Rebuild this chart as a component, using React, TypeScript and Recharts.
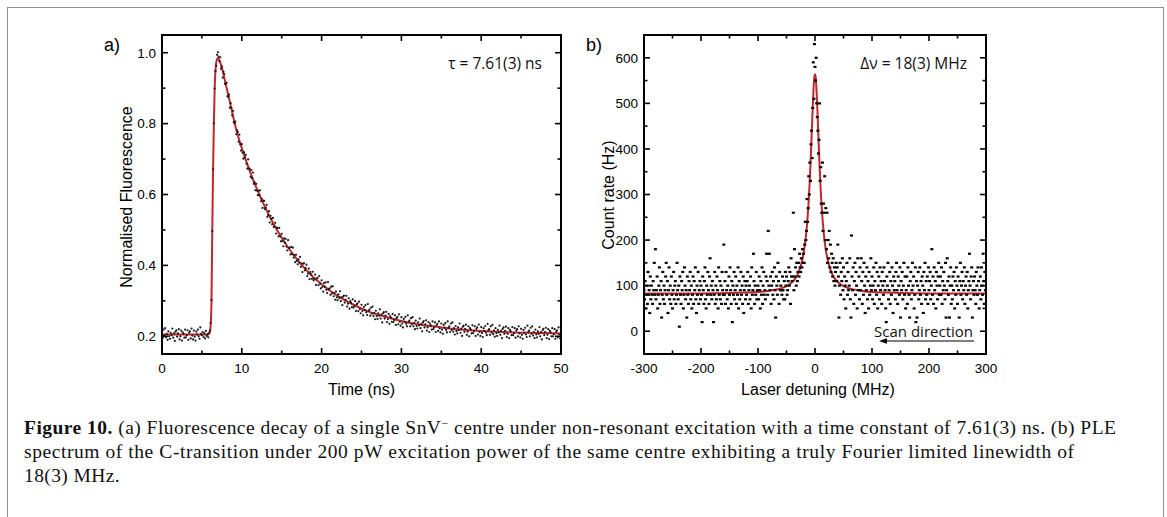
import { ComposedChart, Line, Scatter, XAxis, YAxis } from "recharts";

// (a) time-resolved fluorescence, one value per 0.1 ns bin from 0 to 50 ns (normalised, x1000)
const DECAY_BIN_NS = 0.1;
const DECAY_MILLI = [
  211, 195, 219, 202, 223, 197, 207, 190, 214, 200,
  193, 210, 203, 222, 196, 208, 187, 213, 217, 199,
  208, 220, 191, 200, 216, 188, 211, 207, 196, 219,
  197, 203, 217, 190, 210, 214, 194, 222, 202, 191,
  216, 199, 188, 213, 205, 219, 200, 193, 225, 207,
  203, 212, 198, 209, 194, 215, 201, 206, 197, 210,
  216, 238, 302, 497, 671, 801, 899, 948, 963, 994,
  1001, 989, 976, 987, 955, 961, 930, 946, 940, 912,
  913, 915, 877, 876, 882, 845, 858, 844, 823, 836,
  804, 801, 806, 770, 781, 776, 749, 769, 742, 724,
  742, 718, 701, 719, 705, 712, 687, 673, 699, 674,
  672, 650, 669, 646, 662, 630, 634, 612, 630, 611,
  598, 610, 598, 612, 581, 588, 562, 583, 582, 559,
  563, 571, 537, 542, 553, 521, 540, 531, 516, 534,
  508, 510, 520, 490, 506, 506, 482, 506, 482, 468,
  489, 469, 454, 476, 464, 475, 453, 442, 471, 449,
  450, 431, 452, 432, 450, 422, 429, 409, 430, 413,
  403, 417, 408, 424, 396, 405, 381, 405, 406, 386,
  392, 402, 370, 377, 391, 361, 381, 375, 362, 382,
  358, 362, 374, 345, 363, 365, 344, 370, 348, 335,
  358, 339, 326, 350, 340, 352, 331, 322, 353, 333,
  335, 317, 340, 321, 341, 313, 322, 303, 326, 310,
  302, 318, 309, 327, 299, 310, 288, 312, 315, 295,
  303, 314, 284, 292, 307, 278, 299, 294, 282, 304,
  281, 286, 299, 271, 290, 293, 271, 298, 277, 265,
  289, 271, 259, 283, 274, 288, 268, 260, 291, 272,
  275, 258, 281, 264, 284, 257, 266, 248, 272, 257,
  249, 265, 258, 276, 250, 261, 239, 265, 268, 250,
  258, 269, 240, 248, 263, 235, 257, 252, 241, 263,
  240, 246, 259, 232, 251, 255, 234, 262, 241, 230,
  254, 236, 225, 249, 241, 255, 235, 228, 259, 241,
  244, 228, 251, 234, 254, 228, 238, 220, 244, 229,
  222, 239, 231, 250, 223, 235, 214, 239, 243, 225,
  234, 245, 216, 225, 240, 212, 235, 230, 219, 242,
  220, 225, 239, 212, 231, 235, 215, 242, 222, 211,
  236, 219, 207, 232, 224, 237, 218, 211, 242, 224,
  228, 212, 236, 218, 239, 213, 223, 205, 229, 215,
  208, 225, 218, 236, 210, 222, 201, 227, 230, 212,
  221, 233, 204, 213, 228, 200, 223, 219, 208, 231,
  209, 215, 228, 201, 221, 225, 205, 233, 212, 201,
  226, 209, 198, 223, 215, 229, 210, 203, 235, 217,
  220, 204, 228, 211, 232, 206, 216, 199, 223, 209,
  201, 218, 211, 230, 204, 216, 195, 221, 225, 207,
  215, 227, 198, 207, 223, 195, 218, 214, 203, 226,
  203, 209, 223, 196, 216, 220, 200, 228, 208, 197,
  221, 204, 193, 218, 210, 224, 205, 198, 230, 212,
  216, 200, 224, 207, 228, 202, 212, 195, 219, 205,
  197, 214, 207, 226, 200, 212, 191, 217, 221, 203,
  212, 224, 195, 204, 220, 192, 215, 211, 200, 223,
  200, 206, 220, 193, 213, 217, 197, 225, 205, 194,
  207,
];

// exponential fit, tau = 7.61 ns
const DECAY_FIT_T = [
  0, 5.8, 5.9, 6.0, 6.1, 6.2, 6.3, 6.4, 6.5, 6.6, 6.7, 6.8, 6.9, 7.0, 7.2, 7.5, 8, 8.5, 9, 9.5,
  10, 11, 12, 13, 14, 15, 16, 17, 18, 19, 20, 22, 24, 26, 28, 30, 32, 34, 36, 38, 40, 42, 44, 46, 48, 50,
];
const DECAY_FIT_V = [
  0.205, 0.205, 0.207, 0.212, 0.23, 0.3, 0.5, 0.67, 0.8, 0.9, 0.95, 0.973, 0.982, 0.985, 0.978, 0.958,
  0.91, 0.862, 0.812, 0.767, 0.731, 0.666, 0.61, 0.56, 0.516, 0.478, 0.444, 0.415, 0.389, 0.366, 0.347,
  0.314, 0.289, 0.269, 0.255, 0.243, 0.234, 0.228, 0.222, 0.218, 0.215, 0.213, 0.211, 0.21, 0.209, 0.208,
];

// (b) PLE scan, one count rate per MHz from -300 to +300 MHz
const PLE_START_MHZ = -300;
const PLE_STEP_MHZ = 1;
const PLE_HZ = [
  90, 70, 110, 50, 80, 100, 60, 130, 80, 90, 40, 120, 70, 100, 80, 60, 110, 90, 150, 80,
  180, 70, 90, 120, 50, 80, 100, 140, 60, 90, 110, 30, 80, 130, 70, 100, 60, 90, 120, 150,
  80, 110, 40, 90, 140, 70, 100, 60, 120, 80, 50, 90, 130, 70, 100, 110, 60, 80, 150, 90,
  70, 100, 10, 120, 80, 60, 110, 90, 130, 50, 80, 140, 100, 70, 90, 30, 120, 80, 60, 110,
  90, 130, 70, 100, 50, 80, 120, 60, 110, 90, 140, 70, 40, 100, 80, 130, 60, 90, 110, 70,
  100, 80, 20, 120, 90, 60, 110, 140, 70, 50, 100, 80, 130, 90, 60, 120, 160, 80, 100, 70,
  110, 90, 20, 80, 130, 60, 100, 70, 120, 90, 50, 140, 80, 110, 70, 100, 60, 130, 90, 80,
  190, 80, 110, 60, 130, 90, 70, 100, 50, 120, 80, 140, 90, 60, 110, 20, 100, 80, 130, 70,
  90, 120, 60, 100, 80, 140, 50, 110, 70, 90, 130, 80, 100, 60, 120, 40, 90, 110, 70, 100,
  80, 110, 130, 60, 90, 100, 70, 120, 50, 140, 80, 90, 170, 110, 60, 100, 80, 130, 70, 90,
  100, 70, 120, 90, 50, 110, 80, 140, 60, 100, 130, 80, 90, 70, 120, 170, 110, 80, 220, 100,
  170, 90, 120, 60, 100, 130, 80, 110, 70, 140, 90, 30, 120, 100, 80, 150, 110, 60, 130, 90,
  100, 90, 80, 120, 90, 70, 110, 70, 130, 100, 120, 80, 90, 110, 140, 100, 130, 60, 160, 120,
  110, 120, 260, 90, 180, 120, 140, 100, 150, 110, 130, 150, 120, 170, 140, 130, 160, 140, 180, 150,
  170, 150, 190, 240, 200, 220, 290, 240, 270, 340, 300, 370, 330, 410, 440, 380, 490, 590, 510, 630,
  580, 550, 600, 500, 470, 440, 390, 420, 500, 330, 360, 280, 260, 370, 220, 280, 260, 340, 200, 270,
  180, 260, 150, 200, 160, 220, 140, 190, 130, 170, 150, 120, 160, 110, 140, 100, 130, 150, 110, 140,
  190, 120, 30, 100, 150, 80, 130, 110, 160, 90, 140, 70, 120, 100, 50, 110, 150, 80, 130, 90,
  100, 160, 70, 30, 210, 120, 90, 140, 60, 110, 150, 80, 130, 100, 50, 160, 90, 120, 70, 140,
  90, 160, 110, 60, 130, 80, 150, 100, 40, 120, 90, 140, 70, 110, 50, 130, 80, 100, 160, 90,
  120, 70, 100, 140, 60, 110, 90, 150, 80, 130, 50, 100, 120, 70, 140, 90, 110, 60, 130, 100,
  80, 140, 110, 90, 50, 20, 120, 100, 150, 70, 90, 130, 60, 110, 80, 140, 100, 40, 120, 90,
  110, 70, 130, 150, 90, 60, 120, 100, 80, 140, 30, 110, 90, 130, 70, 100, 150, 80, 120, 50,
  90, 120, 60, 140, 100, 80, 30, 110, 130, 70, 90, 150, 100, 120, 50, 80, 140, 20, 110, 30,
  100, 130, 70, 90, 140, 80, 110, 60, 120, 100, 40, 130, 90, 150, 70, 110, 80, 120, 60, 140,
  90, 110, 130, 70, 100, 180, 80, 120, 60, 140, 90, 110, 50, 130, 100, 70, 120, 150, 80, 100,
  120, 80, 140, 60, 110, 90, 130, 100, 70, 150, 30, 90, 160, 110, 80, 120, 30, 100, 140, 60,
  100, 70, 120, 90, 130, 50, 110, 80, 140, 100, 60, 120, 90, 30, 110, 150, 80, 100, 130, 70,
  110, 90, 140, 60, 100, 120, 80, 130, 50, 90, 110, 170, 100, 70, 120, 140, 30, 90, 110, 80,
  120, 90, 60, 130, 100, 80, 140, 110, 50, 90, 120, 70, 140, 100, 80, 170, 110, 60, 130, 90,
  110,
];

// Lorentzian fit, FWHM 18 MHz
const PLE_FIT_MHZ = [
  -300, -200, -150, -100, -80, -60, -50, -40, -35, -30, -25, -20, -17, -15, -14, -13, -12, -11, -10, -9,
  -8, -7, -6, -5, -4, -3, -2, -1, 0, 1, 2, 3, 4, 5, 6, 7, 8, 9, 10, 11, 12, 13, 14, 15,
  17, 20, 25, 30, 35, 40, 50, 60, 80, 100, 150, 200, 300,
];
const PLE_FIT_HZ = [
  82.5, 83, 84, 86, 89, 94, 99, 108, 115, 126, 143, 171, 197, 220, 234, 250, 268, 288, 311, 336,
  364, 394, 427, 459, 491, 520, 544, 559, 564, 559, 544, 520, 491, 459, 427, 394, 364, 336, 311, 288,
  268, 250, 234, 220, 197, 171, 143, 126, 115, 108, 99, 94, 89, 86, 84, 83, 82.5,
];

const DECAY_X_TICKS = [0, 5, 10, 15, 20, 25, 30, 35, 40, 45, 50];
const DECAY_X_LABELS = [0, 10, 20, 30, 40, 50];
const DECAY_Y_TICKS = [0.2, 0.3, 0.4, 0.5, 0.6, 0.7, 0.8, 0.9, 1.0];
const DECAY_Y_LABELS = [0.2, 0.4, 0.6, 0.8, 1.0];
const PLE_X_TICKS = [-300, -250, -200, -150, -100, -50, 0, 50, 100, 150, 200, 250, 300];
const PLE_X_LABELS = [-300, -200, -100, 0, 100, 200, 300];
const PLE_Y_TICKS = [0, 50, 100, 150, 200, 250, 300, 350, 400, 450, 500, 550, 600];
const PLE_Y_LABELS = [0, 100, 200, 300, 400, 500, 600];

const decayPoints = DECAY_MILLI.map((v, i) => ({ x: i * DECAY_BIN_NS, y: v / 1000 }));
const decayFit = DECAY_FIT_T.map((t, i) => ({ x: t, y: DECAY_FIT_V[i] }));
const plePoints = PLE_HZ.map((v, i) => ({ x: PLE_START_MHZ + i * PLE_STEP_MHZ, y: v }));
const pleFit = PLE_FIT_MHZ.map((m, i) => ({ x: m, y: PLE_FIT_HZ[i] }));

const RED = "#c1272d";
const SANS = '"Liberation Sans", Arial, sans-serif';
const NOTE = '"Open Sans", sans-serif';
const SERIF = '"Liberation Serif", "Times New Roman", serif';
const AXIS_LINE = { stroke: "#000", strokeWidth: 2, strokeLinecap: "square" as const };

const near = (v: number, list: number[]) => list.some((m) => Math.abs(m - v) < 1e-6);

// inward ticks on all four sides; labels only on bottom / left majors
function boxTick(side: "bottom" | "top" | "left" | "right", labels: number[], fmt: (v: number) => string) {
  return (props: any) => {
    const { x, y, payload } = props;
    const v = payload.value;
    const major = near(v, labels);
    const len = major ? 6 : 3.5;
    let line;
    if (side === "bottom") line = <line x1={x} y1={y} x2={x} y2={y - len} />;
    else if (side === "top") line = <line x1={x} y1={y} x2={x} y2={y + len} />;
    else if (side === "left") line = <line x1={x} y1={y} x2={x + len} y2={y} />;
    else line = <line x1={x} y1={y} x2={x - len} y2={y} />;
    const txt = { stroke: "none", fill: "#000", fontSize: 13.5, fontFamily: SANS };
    return (
      <g stroke="#000" strokeWidth={1.6}>
        {line}
        {major && side === "bottom" && (
          <text x={x} y={y + 18.5} textAnchor="middle" {...txt}>
            {fmt(v)}
          </text>
        )}
        {major && side === "left" && (
          <text x={x - 6} y={y + 4.8} textAnchor="end" {...txt}>
            {fmt(v)}
          </text>
        )}
      </g>
    );
  };
}

const roundDot = (p: any) => <circle cx={p.cx} cy={p.cy} r={1.1} fill="#1a1a1a" />;
const dashDot = (p: any) => <rect x={p.cx - 1.5} y={p.cy - 1.1} width={3} height={2.2} fill="#000" />;

// axes are 1px thick boxes (Recharts skips a 0-sized axis), margins account for that
function Panel({
  width, margin, xDomain, yDomain, xTicks, xLabels, yTicks, yLabels, xFmt, yFmt, points, fit, shape,
}: any) {
  const common = { type: "number" as const, allowDataOverflow: true, tickLine: false, tickSize: 0, tickMargin: 0, interval: 0 as const, axisLine: AXIS_LINE };
  return (
    <ComposedChart width={width} height={400} margin={margin}>
      <XAxis {...common} dataKey="x" domain={xDomain} ticks={xTicks} height={1} tick={boxTick("bottom", xLabels, xFmt)} />
      <XAxis {...common} xAxisId="top" orientation="top" dataKey="x" domain={xDomain} ticks={xTicks} height={1} tick={boxTick("top", xLabels, xFmt)} />
      <YAxis {...common} dataKey="y" domain={yDomain} ticks={yTicks} width={1} tick={boxTick("left", yLabels, yFmt)} />
      <YAxis {...common} yAxisId="right" orientation="right" dataKey="y" domain={yDomain} ticks={yTicks} width={1} tick={boxTick("right", yLabels, yFmt)} />
      <Scatter data={points} shape={shape} isAnimationActive={false} />
      <Line data={fit} dataKey="y" type="monotone" stroke={RED} strokeWidth={2} dot={false} isAnimationActive={false} />
    </ComposedChart>
  );
}

export default function App() {
  const cap = { fontFamily: SERIF, fontSize: 19.5, fill: "#111" };
  return (
    <div style={{ position: "fixed", left: 0, top: 0, width: 1167, height: 517, background: "#fff", overflow: "hidden" }}>
      <div style={{ position: "absolute", left: 7, top: 7, width: 1155, height: 600, border: "1px solid #8f8f8f" }} />
      <div style={{ position: "absolute", left: 0, top: 0 }}>
        <Panel
          width={600}
          margin={{ top: 34, right: 38, bottom: 45, left: 161 }}
          xDomain={[0, 50]}
          yDomain={[0.15, 1.05]}
          xTicks={DECAY_X_TICKS}
          xLabels={DECAY_X_LABELS}
          yTicks={DECAY_Y_TICKS}
          yLabels={DECAY_Y_LABELS}
          xFmt={(v: number) => String(v)}
          yFmt={(v: number) => v.toFixed(1)}
          points={decayPoints}
          fit={decayFit}
          shape={roundDot}
        />
      </div>
      <div style={{ position: "absolute", left: 600, top: 0 }}>
        <Panel
          width={420}
          margin={{ top: 34, right: 33, bottom: 45, left: 43 }}
          xDomain={[-300, 300]}
          yDomain={[-50, 650]}
          xTicks={PLE_X_TICKS}
          xLabels={PLE_X_LABELS}
          yTicks={PLE_Y_TICKS}
          yLabels={PLE_Y_LABELS}
          xFmt={(v: number) => String(v)}
          yFmt={(v: number) => String(v)}
          points={plePoints}
          fit={pleFit}
          shape={dashDot}
        />
      </div>
      <svg width={1167} height={517} style={{ position: "absolute", left: 0, top: 0, pointerEvents: "none" }}>
        <g fontFamily={SANS} fill="#000">
          <text x={104} y={51} fontSize={18}>a)</text>
          <text x={586} y={51} fontSize={18}>b)</text>
          <text transform="translate(131.5,197) rotate(-90)" textAnchor="middle" fontSize={16}>Normalised Fluorescence</text>
          <text x={361.5} y={395} textAnchor="middle" fontSize={16}>Time (ns)</text>
          <text transform="translate(613.5,195) rotate(-90)" textAnchor="middle" fontSize={16}>Count rate (Hz)</text>
          <text x={818} y={395} textAnchor="middle" fontSize={16}>Laser detuning (MHz)</text>
        </g>
        <g fontFamily={NOTE} fill="#111">
          <text x={542} y={69} textAnchor="end" fontSize={15.5}>τ = 7.61(3) ns</text>
          <text x={967} y={69} textAnchor="end" fontSize={15.5}>Δν = 18(3) MHz</text>
          <text x={973} y={337} textAnchor="end" fontSize={15}>Scan direction</text>
        </g>
        <line x1={974} y1={341} x2={884} y2={341} stroke="#000" strokeWidth={1.1} />
        <polygon points="879,341 887,338.3 887,343.7" fill="#000" />
        <g {...cap}>
          <text x={24} y={434} textLength={1092} lengthAdjust="spacing">
            <tspan fontWeight="bold">Figure 10.</tspan> (a) Fluorescence decay of a single SnV
            <tspan dy={-7} fontSize={12}>−</tspan>
            <tspan dy={7}> centre under non-resonant excitation with a time constant of 7.61(3) ns. (b) PLE</tspan>
          </text>
          <text x={24} y={458} textLength={1050} lengthAdjust="spacing">
            spectrum of the C-transition under 200 pW excitation power of the same centre exhibiting a truly Fourier limited linewidth of
          </text>
          <text x={24} y={482} letterSpacing={0.4}>18(3) MHz.</text>
        </g>
      </svg>
    </div>
  );
}
